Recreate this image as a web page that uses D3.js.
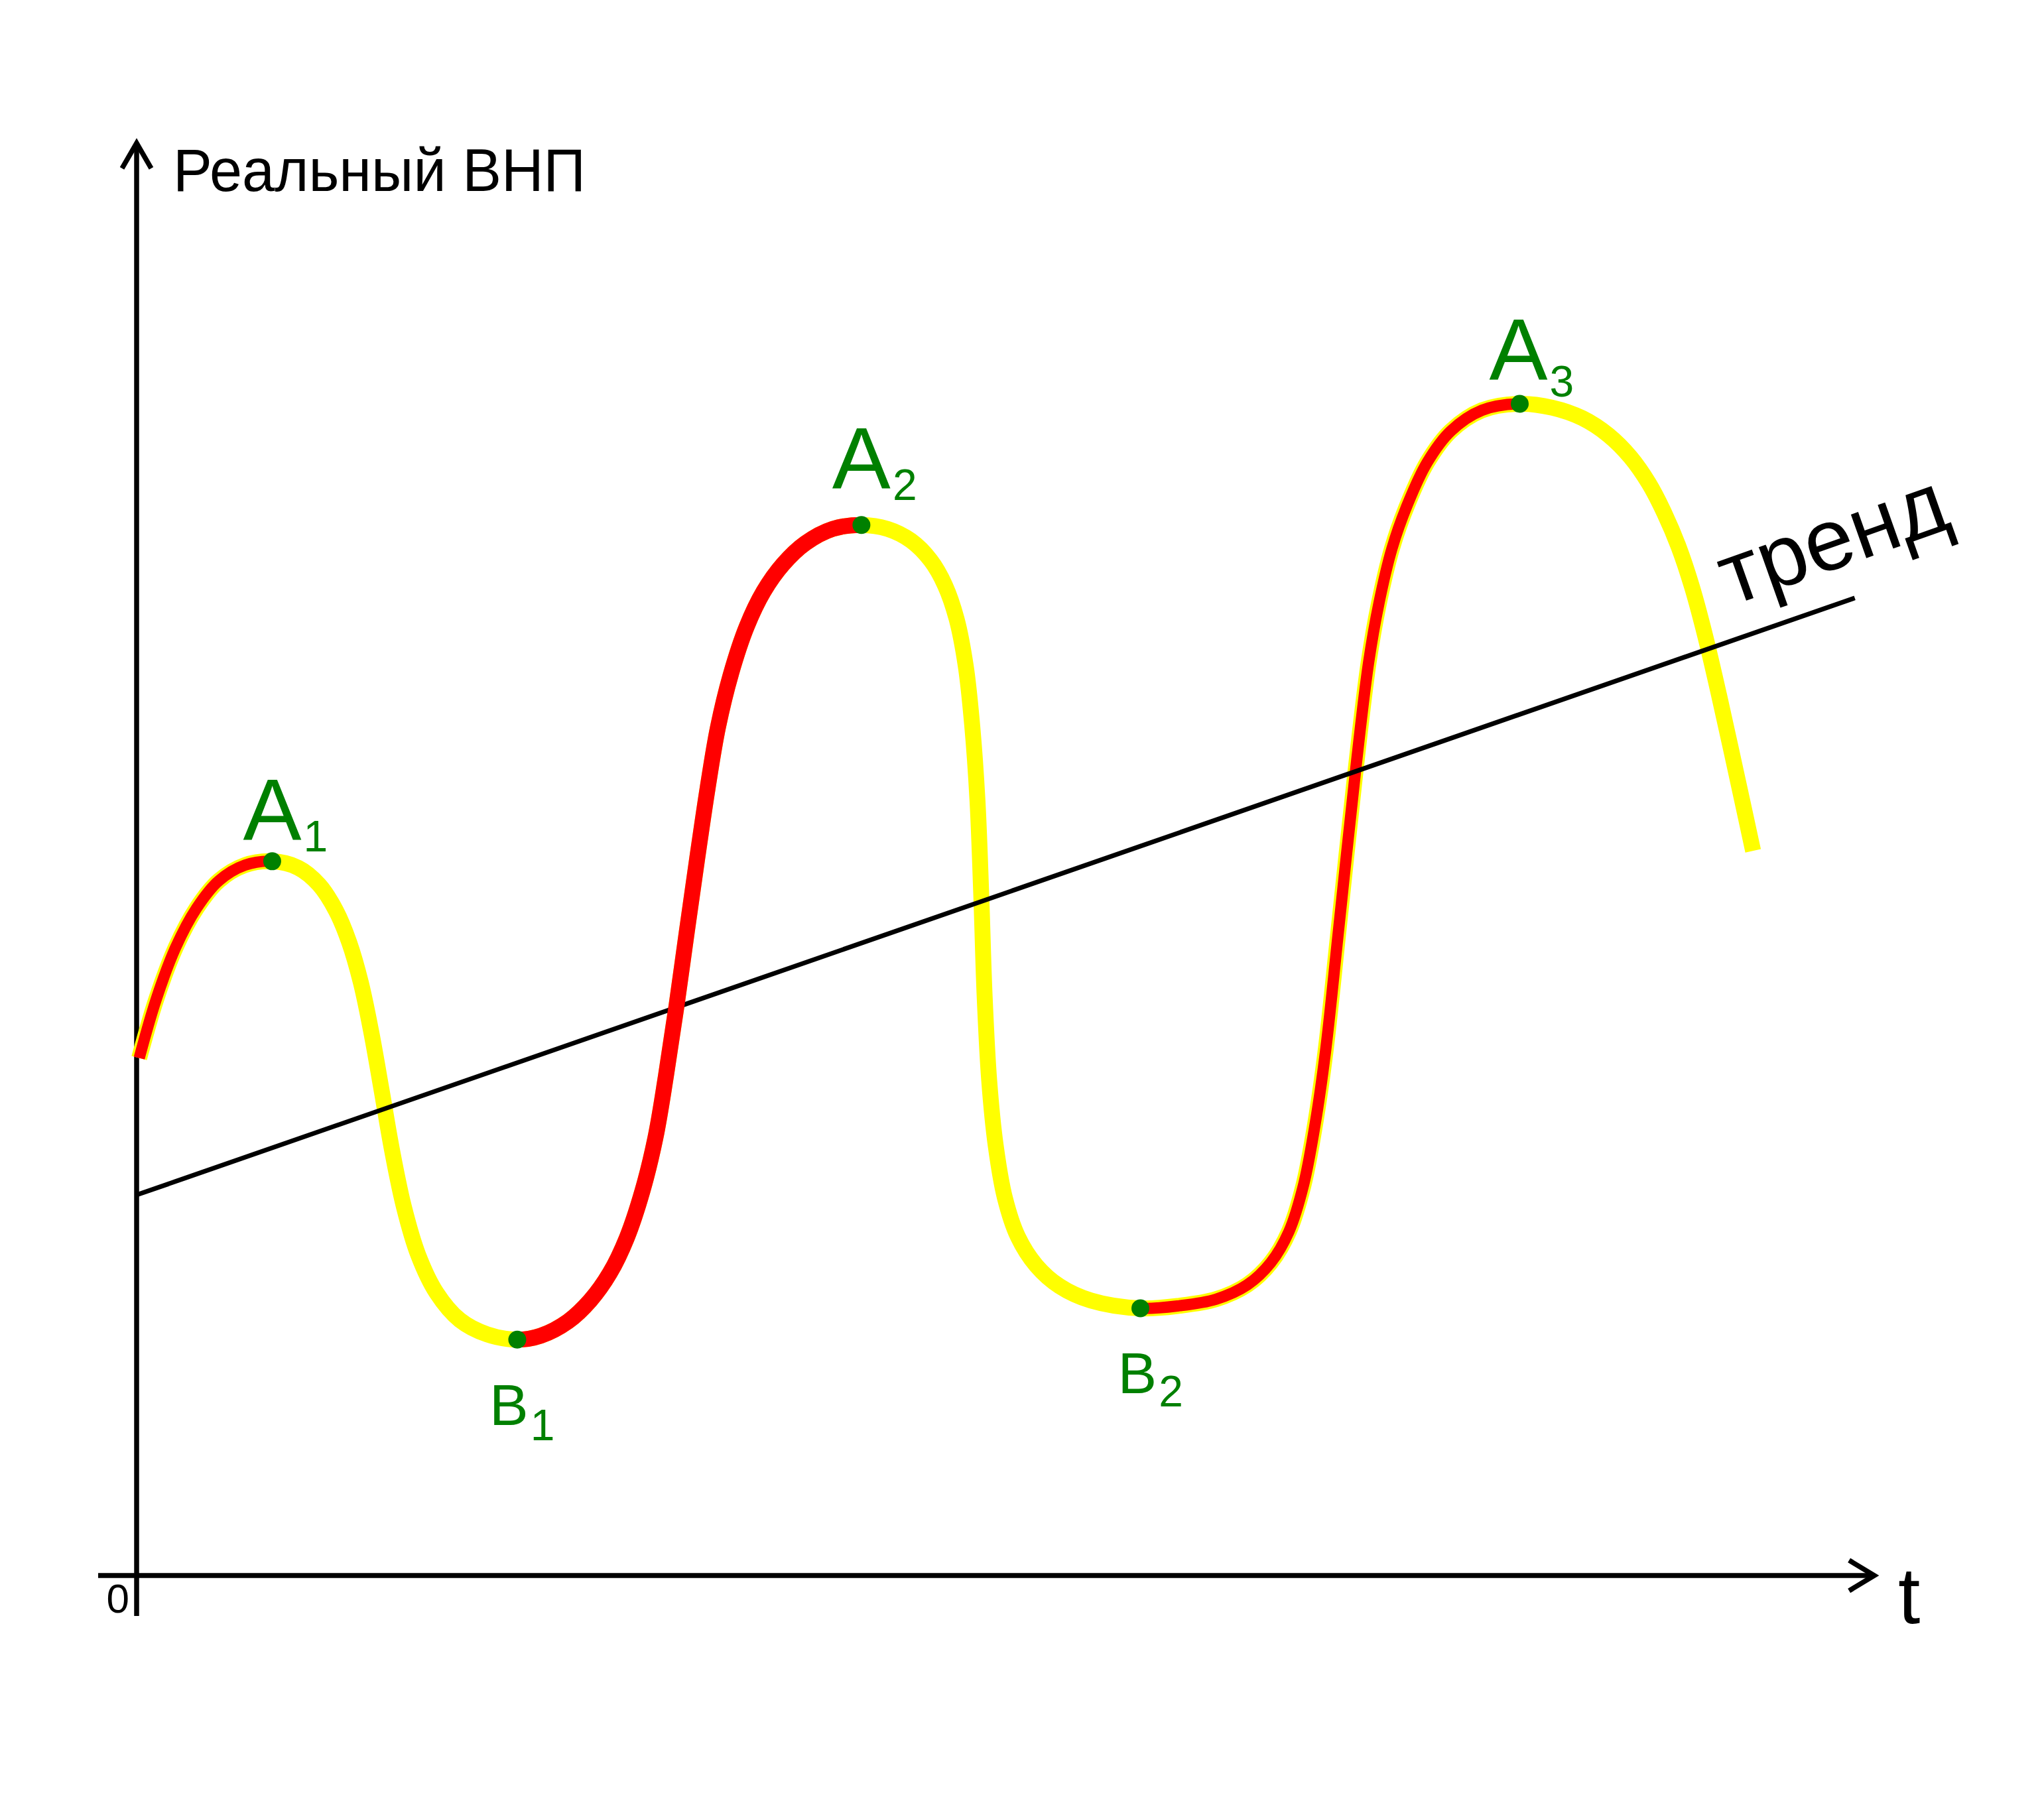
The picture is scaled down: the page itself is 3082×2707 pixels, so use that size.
<!DOCTYPE html>
<html>
<head>
<meta charset="utf-8">
<script src="https://cdn.jsdelivr.net/npm/d3@7"></script>
<style>
  html, body { margin: 0; padding: 0; background: #ffffff; }
  svg { display: block; }
  text { font-family: "Liberation Sans", Arial, Helvetica, sans-serif; }
</style>
</head>
<body>
<svg id="chart" width="3082" height="2707"></svg>
<script>
// ---------------- DATA ----------------
// Time (arbitrary units) along the business-cycle curve
const cycleT = [
  0.2, 1.5, 3.0, 4.6, 6.3, 8.3,
  10.4, 12.4, 14.0, 15.3, 16.3, 17.2, 18.0, 18.8, 19.6, 20.5, 21.6, 23.0, 24.8, 26.9,
  29.2, 31.0, 33.1, 34.8, 36.3, 37.6, 38.8, 39.8, 40.6, 41.4, 42.2, 43.0, 43.8, 44.6, 45.6, 46.8, 48.1, 49.6, 51.3, 53.4,
  55.6, 57.6, 59.4, 60.9, 62.0, 62.9, 63.6, 64.1, 64.5, 64.8, 65.05, 65.4, 65.9, 66.6, 67.6, 69.0, 70.8, 73.2,
  77.0, 80.0, 82.8, 85.2, 87.0, 88.4, 89.5, 90.4, 91.2, 92.2, 93.5, 94.5, 95.3, 96.3, 97.5, 99.0, 100.8, 103.2,
  106.1, 108.6, 110.9, 112.9, 114.6, 116.0, 117.2, 118.3, 119.3, 120.3, 121.4, 122.7, 124.0
];
// Real GNP (arbitrary units) at each time
const cycleGNP = [
  39.7, 44.2, 48.2, 51.2, 53.3, 54.5,
  54.8, 54.3, 53.0, 51.0, 48.6, 45.5, 41.7, 37.2, 32.6, 28.3, 24.6, 21.7, 19.6, 18.5,
  18.1, 18.4, 19.5, 21.1, 23.2, 25.9, 29.5, 33.6, 38.3, 43.6, 49.35, 55.0, 60.4, 65.1, 69.2, 72.8, 75.5, 77.6, 79.2, 80.3,
  80.6, 80.3, 79.4, 77.9, 76.0, 73.4, 69.8, 65.2, 59.5, 52.0, 44.5, 38.0, 33.0, 29.0, 26.0, 23.8, 22.2, 21.1,
  20.5, 20.7, 21.2, 22.3, 24.0, 26.4, 29.9, 34.6, 40.2, 49.5, 61.7, 70.0, 74.6, 78.8, 82.2, 85.4, 87.8, 89.4,
  89.9, 89.6, 88.8, 87.5, 85.8, 83.8, 81.5, 78.9, 75.9, 72.2, 67.5, 61.6, 55.6
];

// Turning points of the cycle (peaks A, troughs B)
const turnNames = ["A", "B", "A", "B", "A"];
const turnSubs  = ["1", "1", "2", "2", "3"];
const turnT     = [10.4, 29.2, 55.6, 77.0, 106.1];
const turnGNP   = [54.8, 18.1, 80.6, 20.5, 89.9];

// Long-run trend line
const trendT   = [0, 131.8];
const trendGNP = [29.2, 75.0];

// Axis labels
const yAxisLabel = "Реальный ВНП";
const xAxisLabel = "t";
const originLabel = "0";
const trendLabel = "тренд";

// ---------------- LAYOUT ----------------
const svg = d3.select("#chart");
const x = d3.scaleLinear().domain([0, 100]).range([206, 206 + 1965.6]);
const y = d3.scaleLinear().domain([0, 100]).range([2376, 2376 - 1965.6]);

const YELLOW = "#ffff00", RED = "#ff0000", GREEN = "#008000";

const pts = cycleT.map((t, i) => [t, cycleGNP[i]]);
const line = d3.line().x(d => x(d[0])).y(d => y(d[1])).curve(d3.curveCatmullRom.alpha(0.5));

// ---- axes ----
const axisG = svg.append("g").attr("stroke", "#000").attr("stroke-width", 7.5).attr("fill", "none");
// x axis
axisG.append("line").attr("x1", x(-2.95)).attr("x2", x(133.3)).attr("y1", y(0)).attr("y2", y(0));
axisG.append("path").attr("stroke-linejoin", "miter")
  .attr("d", `M${x(133.3) - 38},${y(0) - 23} L${x(133.3)},${y(0)} L${x(133.3) - 38},${y(0) + 23}`);
// y axis
axisG.append("line").attr("x1", x(0)).attr("x2", x(0)).attr("y1", y(-3.1)).attr("y2", y(109.9));
axisG.append("path").attr("stroke-linejoin", "miter")
  .attr("d", `M${x(0) - 22},${y(109.9) + 38} L${x(0)},${y(109.9)} L${x(0) + 22},${y(109.9) + 38}`);

svg.append("text").attr("x", 261).attr("y", 288).attr("font-size", 91)
  .attr("textLength", 622).attr("lengthAdjust", "spacingAndGlyphs")
  .attr("fill", "#000").text(yAxisLabel);
svg.append("text").attr("x", 2862).attr("y", 2448).attr("font-size", 120).attr("fill", "#000").text(xAxisLabel);
svg.append("text").attr("x", 195).attr("y", 2432).attr("font-size", 62).attr("text-anchor", "end").attr("fill", "#000").text(originLabel);

// ---- cycle curve (yellow base) ----
const yellowPath = svg.append("path").datum(pts).attr("d", line)
  .attr("fill", "none").attr("stroke", YELLOW).attr("stroke-width", 24).attr("stroke-linecap", "butt");

// lengths along the path at turning points
const node = yellowPath.node();
const total = node.getTotalLength();
function lengthAtX(px) {
  let lo = 0, hi = total;
  for (let k = 0; k < 40; k++) {
    const mid = (lo + hi) / 2;
    if (node.getPointAtLength(mid).x < px) lo = mid; else hi = mid;
  }
  return (lo + hi) / 2;
}
const L = turnT.map(t => lengthAtX(x(t)));

// red expansion phases with thin yellow border (start->A1, B2->A3)
svg.append("path").datum(pts).attr("d", line)
  .attr("fill", "none").attr("stroke", RED).attr("stroke-width", 17).attr("stroke-linecap", "butt")
  .attr("stroke-dasharray", `${L[0]} ${L[3] - L[0]} ${L[4] - L[3]} ${total}`);

// trend line
svg.append("line")
  .attr("x1", x(trendT[0])).attr("y1", y(trendGNP[0]))
  .attr("x2", x(trendT[1])).attr("y2", y(trendGNP[1]))
  .attr("stroke", "#000").attr("stroke-width", 7);

// red expansion phase B1->A2 (full width)
svg.append("path").datum(pts).attr("d", line)
  .attr("fill", "none").attr("stroke", RED).attr("stroke-width", 24).attr("stroke-linecap", "butt")
  .attr("stroke-dasharray", `0 ${L[1]} ${L[2] - L[1]} ${total}`);

// trend label
svg.append("text")
  .attr("transform", "translate(2610,914) rotate(-19.5)")
  .attr("font-size", 132).attr("fill", "#000").text(trendLabel);

// ---- turning points ----
const labelOffsets = [
  { dx: -44, dy: -32, fs: 132, sdy: 17, sdx: 3 },
  { dx: -42, dy: 129, fs: 88,  sdy: 23, sdx: 3 },
  { dx: -44, dy: -55, fs: 132, sdy: 17, sdx: 3 },
  { dx: -34, dy: 128, fs: 88,  sdy: 20, sdx: 3 },
  { dx: -46, dy: -36, fs: 132, sdy: 25, sdx: 3 }
];

svg.append("g").selectAll("circle").data(turnT).join("circle")
  .attr("cx", (d) => x(d)).attr("cy", (d, i) => y(turnGNP[i])).attr("r", 13.5).attr("fill", GREEN);

const lab = svg.append("g").selectAll("text").data(turnT).join("text")
  .attr("x", (d, i) => x(d) + labelOffsets[i].dx)
  .attr("y", (d, i) => y(turnGNP[i]) + labelOffsets[i].dy)
  .attr("font-size", (d, i) => labelOffsets[i].fs)
  .attr("fill", GREEN)
  .text((d, i) => turnNames[i]);
lab.append("tspan")
  .attr("font-size", 66)
  .attr("dx", (d, i) => labelOffsets[i].sdx)
  .attr("dy", (d, i) => labelOffsets[i].sdy)
  .text((d, i) => turnSubs[i]);
</script>
</body>
</html>
